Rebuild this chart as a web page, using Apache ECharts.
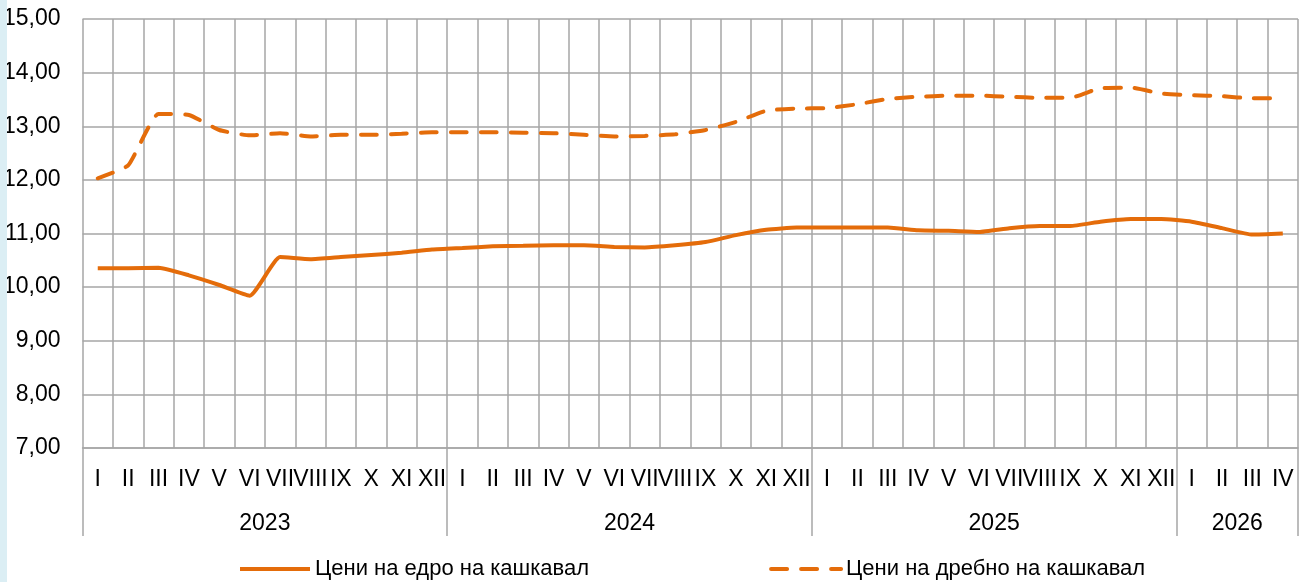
<!DOCTYPE html>
<html>
<head>
<meta charset="utf-8">
<script src="https://cdn.jsdelivr.net/npm/echarts@6/dist/echarts.min.js"></script>
<style>
  html, body { margin: 0; padding: 0; background: #fff; }
  #strip { position: absolute; left: 0; top: 0; width: 7px; height: 582px; background: #dbeef4; }
  #chart { width: 1299px; height: 582px; }
</style>
</head>
<body>
<div id="chart"></div>
<div id="strip"></div>
<script>
const months = ['I','II','III','IV','V','VI','VII','VIII','IX','X','XI','XII']
const years = ['2023', '2024', '2025', '2026']
const monthsPerYear = [12, 12, 12, 4]
const yTicks = [7, 8, 9, 10, 11, 12, 13, 14, 15]

// цени на едро
const wholesale = [
  10.35, 10.35, 10.36, 10.22, 10.04, 9.84, 10.56, 10.52, 10.56, 10.60, 10.64, 10.70,
  10.73, 10.76, 10.77, 10.78, 10.78, 10.75, 10.74, 10.78, 10.84, 10.97, 11.07, 11.11,
  11.11, 11.11, 11.11, 11.06, 11.05, 11.03, 11.10, 11.14, 11.14, 11.22, 11.27, 11.27,
  11.22, 11.10, 10.98, 11.00
]
// цени на дребно
const retail = [
  12.03, 12.27, 13.23, 13.21, 12.93, 12.83, 12.87, 12.81, 12.84, 12.84, 12.86, 12.89,
  12.89, 12.89, 12.88, 12.87, 12.84, 12.81, 12.82, 12.85, 12.93, 13.08, 13.29, 13.33,
  13.34, 13.41, 13.51, 13.55, 13.57, 13.57, 13.55, 13.53, 13.53, 13.71, 13.72, 13.61,
  13.58, 13.56, 13.52, 13.52
]

const cats = []
monthsPerYear.forEach((n, yi) => {
  for (let i = 0; i < n; i++) cats.push(years[yi] + '-' + months[i])
})

// второ ниво: граници между годините
const yearSlots = []
const yearMid = {}
const yearEdge = {}
let pos = 0
yearEdge[0] = true
monthsPerYear.forEach((n, yi) => {
  yearMid[pos * 2 + n] = years[yi]
  pos += n
  yearEdge[pos] = true
})
for (let i = 0; i <= cats.length * 2; i++) yearSlots.push(yearMid[i] || '')

const orange = '#e46c0a'
const gridGray = '#a6a6a6'
const font = "'Liberation Sans Narrow', 'Arial Narrow', 'Liberation Sans', Arial, sans-serif"

const chart = echarts.init(document.getElementById('chart'))
chart.setOption({
  animation: false,
  textStyle: { fontFamily: font },
  grid: { left: 82, right: 1, top: 19, bottom: 134 },
  legend: {
    top: 553,
    left: 233,
    itemWidth: 70,
    itemHeight: 14,
    itemGap: 180,
    itemStyle: { opacity: 0 },
    lineStyle: { width: 4 },
    textStyle: { fontSize: 22, color: '#000', fontFamily: font },
    data: ['Цени на едро на кашкавал', 'Цени на дребно на кашкавал']
  },
  xAxis: [
    {
      type: 'category',
      data: cats,
      boundaryGap: true,
      axisLine: { lineStyle: { color: gridGray, width: 1.5 } },
      axisTick: { show: false },
      splitLine: { show: true, interval: 0, lineStyle: { color: gridGray, width: 1.5 } },
      axisLabel: {
        interval: 0,
        margin: 20,
        fontSize: 23,
        color: '#000',
        formatter: v => v.split('-')[1]
      }
    },
    {
      type: 'category',
      position: 'bottom',
      offset: 0,
      data: yearSlots,
      boundaryGap: false,
      axisLine: { show: false },
      axisTick: {
        show: true,
        length: 88,
        interval: (i) => yearEdge[i / 2] === true,
        lineStyle: { color: gridGray, width: 1.5 }
      },
      axisLabel: {
        interval: (i, v) => v !== '',
        margin: 64,
        fontSize: 23,
        color: '#000'
      }
    }
  ],
  yAxis: {
    type: 'value',
    min: yTicks[0],
    max: yTicks[yTicks.length - 1],
    interval: 1,
    axisLine: { show: false },
    axisTick: { show: false },
    splitLine: { lineStyle: { color: gridGray, width: 1.5 } },
    axisLabel: {
      margin: 22,
      fontSize: 23,
      color: '#000',
      formatter: v => v.toFixed(2).replace('.', ',')
    }
  },
  series: [
    {
      name: 'Цени на едро на кашкавал',
      type: 'line',
      data: wholesale,
      symbol: 'none',
      smooth: 0.15,
      itemStyle: { color: orange },
      lineStyle: { color: orange, width: 4 }
    },
    {
      name: 'Цени на дребно на кашкавал',
      type: 'line',
      data: retail,
      symbol: 'none',
      smooth: 0.15,
      itemStyle: { color: orange },
      lineStyle: { color: orange, width: 4, type: [16, 14], cap: 'round' }
    }
  ]
})
</script>
</body>
</html>
